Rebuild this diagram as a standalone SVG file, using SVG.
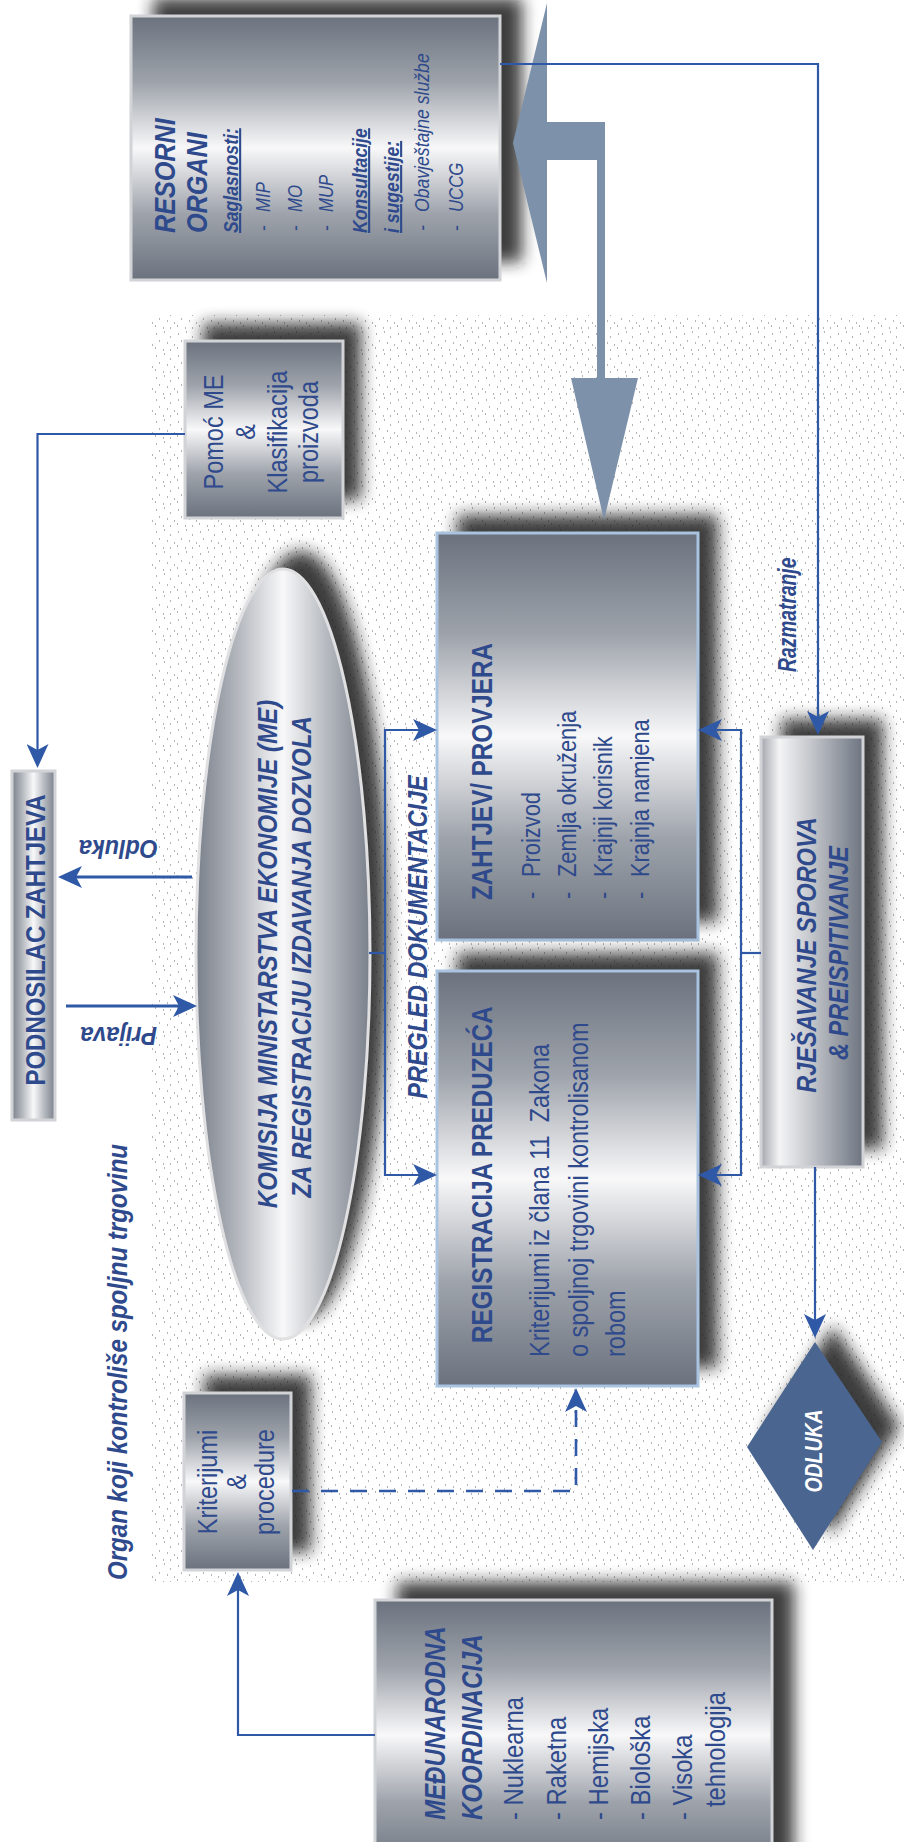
<svg xmlns="http://www.w3.org/2000/svg" width="904" height="1842" viewBox="0 0 904 1842">
<defs>
<style>
.t{font-family:"Liberation Sans",Arial,sans-serif;fill:#2f4a8c}
.b{font-weight:bold}
.i{font-style:italic}
.u{text-decoration:underline}
.w{fill:#ffffff}
.ln{fill:none;stroke:#2f58a6;stroke-width:2.2;marker-end:url(#ah)}
.ln0{fill:none;stroke:#2f58a6;stroke-width:2.2}
.lnb{fill:none;stroke:#2f58a6;stroke-width:2.8;marker-end:url(#ah)}
.dash{fill:none;stroke:#2f58a6;stroke-width:2.6;stroke-dasharray:17 12;marker-end:url(#ah)}
.sh{fill:#1c1c1c;opacity:.85;filter:url(#blur)}
.boxg{fill:url(#gv);stroke:#d2d3d6;stroke-width:3}
.boxb{fill:url(#gv);stroke:#a9c3e0;stroke-width:3}
</style>
<linearGradient id="gv" x1="0" y1="0" x2="0" y2="1">
<stop offset="0" stop-color="#6b727e"/>
<stop offset="0.25" stop-color="#9ea3ab"/>
<stop offset="0.5" stop-color="#f8f8f9"/>
<stop offset="0.75" stop-color="#9ea3ab"/>
<stop offset="1" stop-color="#6b727e"/>
</linearGradient>
<linearGradient id="gh" x1="0" y1="0" x2="1" y2="0">
<stop offset="0" stop-color="#7a808b"/>
<stop offset="0.25" stop-color="#b6bac0"/>
<stop offset="0.5" stop-color="#f8f8f9"/>
<stop offset="0.75" stop-color="#b6bac0"/>
<stop offset="1" stop-color="#7a808b"/>
</linearGradient>
<linearGradient id="gr" x1="0" y1="0" x2="1" y2="0">
<stop offset="0" stop-color="#a2a6ad"/>
<stop offset="0.18" stop-color="#f4f4f5"/>
<stop offset="0.5" stop-color="#c2c5ca"/>
<stop offset="1" stop-color="#6d7480"/>
</linearGradient>
<pattern id="dots" width="22" height="22" patternUnits="userSpaceOnUse">
<g fill="#b4b4b4">
<rect x="2" y="3" width="1" height="2"/><rect x="10" y="1" width="1" height="2"/>
<rect x="16" y="6" width="1" height="2"/><rect x="5" y="10" width="1" height="2"/>
<rect x="13" y="12" width="1" height="2"/><rect x="20" y="14" width="1" height="2"/>
<rect x="1" y="17" width="1" height="2"/><rect x="9" y="19" width="1" height="2"/>
<rect x="16" y="19" width="1" height="2"/>
</g>
</pattern>
<filter id="blur" x="-30%" y="-30%" width="160%" height="160%">
<feGaussianBlur stdDeviation="8"/>
</filter>
<marker id="ah" markerUnits="userSpaceOnUse" markerWidth="24" markerHeight="22" viewBox="0 0 24 22" refX="20" refY="11" orient="auto">
<path d="M0,0 L24,11 L0,22 L6,11 z" fill="#2f58a6"/>
</marker>
</defs>

<rect x="0" y="0" width="904" height="1842" fill="#ffffff"/>
<rect x="150" y="315" width="754" height="1267" fill="url(#dots)"/>

<text class="t b i" font-size="28" transform="translate(127,1580) rotate(-90) scale(0.86,1)">Organ koji kontroliše spoljnu trgovinu</text>

<g id="node-resorni">
<rect class="sh" x="153" y="-2" width="369" height="264"/>
<rect class="boxg" x="131" y="16" width="369" height="264"/>
<text class="t b i" font-size="30" transform="translate(175,233) rotate(-90) scale(0.84,1)">RESORNI</text>
<text class="t b i" font-size="30" transform="translate(207,233) rotate(-90) scale(0.84,1)">ORGANI</text>
<text class="t b i u" font-size="21" transform="translate(238,233) rotate(-90) scale(0.84,1)">Saglasnosti:</text>
<text class="t i" font-size="20" transform="translate(270,231) rotate(-90) scale(0.84,1)">-</text>
<text class="t i" font-size="20" transform="translate(270,212) rotate(-90) scale(0.84,1)">MIP</text>
<text class="t i" font-size="20" transform="translate(302,231) rotate(-90) scale(0.84,1)">-</text>
<text class="t i" font-size="20" transform="translate(302,212) rotate(-90) scale(0.84,1)">MO</text>
<text class="t i" font-size="20" transform="translate(333,231) rotate(-90) scale(0.84,1)">-</text>
<text class="t i" font-size="20" transform="translate(333,212) rotate(-90) scale(0.84,1)">MUP</text>
<text class="t b i u" font-size="21" transform="translate(367,233) rotate(-90) scale(0.84,1)">Konsultacije</text>
<text class="t b i u" font-size="21" transform="translate(399,233) rotate(-90) scale(0.84,1)">i sugestije:</text>
<text class="t i" font-size="21" transform="translate(429,231) rotate(-90) scale(0.84,1)">-</text>
<text class="t i" font-size="21" transform="translate(429,212) rotate(-90) scale(0.84,1)">Obavještajne službe</text>
<text class="t i" font-size="20" transform="translate(463,231) rotate(-90) scale(0.84,1)">-</text>
<text class="t i" font-size="20" transform="translate(463,212) rotate(-90) scale(0.84,1)">UCCG</text>
</g>

<g id="node-pomoc">
<rect class="sh" x="203" y="323" width="158" height="177"/>
<rect class="boxg" x="185" y="341" width="158" height="177"/>
<g text-anchor="middle">
<text class="t" font-size="28" transform="translate(223,432) rotate(-90) scale(0.84,1)">Pomoć ME</text>
<text class="t" font-size="28" transform="translate(255,432) rotate(-90) scale(0.84,1)">&amp;</text>
<text class="t" font-size="28" transform="translate(287,432) rotate(-90) scale(0.84,1)">Klasifikacija</text>
<text class="t" font-size="28" transform="translate(318,432) rotate(-90) scale(0.84,1)">proizvoda</text>
</g>
</g>

<g id="node-podnosilac">
<rect x="12" y="771" width="43" height="349" fill="url(#gh)" stroke="#d2d3d6" stroke-width="3"/>
<text class="t b" font-size="28" text-anchor="middle" transform="translate(45,940) rotate(-90) scale(0.856,1)">PODNOSILAC ZAHTJEVA</text>
</g>

<g id="node-komisija">
<ellipse class="sh" cx="301" cy="936" rx="87" ry="385"/>
<ellipse cx="283" cy="954" rx="87" ry="385" fill="url(#gh)" stroke="#e0e0e2" stroke-width="3"/>
<g text-anchor="middle">
<text class="t b i" font-size="28" transform="translate(277,954) rotate(-90) scale(0.86,1)">KOMISIJA MINISTARSTVA EKONOMIJE (ME)</text>
<text class="t b i" font-size="28" transform="translate(311,957) rotate(-90) scale(0.86,1)">ZA REGISTRACIJU IZDAVANJA DOZVOLA</text>
</g>
</g>

<g id="node-zahtjev">
<rect class="sh" x="457" y="515" width="261" height="407"/>
<rect class="boxb" x="437" y="533" width="261" height="407"/>
<text class="t b" font-size="29" transform="translate(492,900) rotate(-90) scale(0.835,1)">ZAHTJEV/ PROVJERA</text>
<text class="t" font-size="26" transform="translate(540,899) rotate(-90) scale(0.84,1)">-</text>
<text class="t" font-size="26" transform="translate(540,877) rotate(-90) scale(0.84,1)">Proizvod</text>
<text class="t" font-size="26" transform="translate(576,899) rotate(-90) scale(0.84,1)">-</text>
<text class="t" font-size="26" transform="translate(576,877) rotate(-90) scale(0.84,1)">Zemlja okruženja</text>
<text class="t" font-size="26" transform="translate(612,899) rotate(-90) scale(0.84,1)">-</text>
<text class="t" font-size="26" transform="translate(612,877) rotate(-90) scale(0.84,1)">Krajnji korisnik</text>
<text class="t" font-size="26" transform="translate(649,899) rotate(-90) scale(0.84,1)">-</text>
<text class="t" font-size="26" transform="translate(649,877) rotate(-90) scale(0.84,1)">Krajnja namjena</text>
</g>

<g id="node-registracija">
<rect class="sh" x="457" y="953" width="261" height="415"/>
<rect class="boxb" x="437" y="971" width="261" height="415"/>
<text class="t b" font-size="29" transform="translate(492,1343) rotate(-90) scale(0.835,1)">REGISTRACIJA PREDUZEĆA</text>
<text class="t" font-size="28" xml:space="preserve" transform="translate(549,1357) rotate(-90) scale(0.84,1)">Kriterijumi iz člana 11  Zakona</text>
<text class="t" font-size="28" transform="translate(588,1357) rotate(-90) scale(0.84,1)">o spoljnoj trgovini kontrolisanom</text>
<text class="t" font-size="28" transform="translate(625,1357) rotate(-90) scale(0.84,1)">robom</text>
</g>

<text class="t b i" font-size="28" text-anchor="middle" transform="translate(427,937) rotate(-90) scale(0.84,1)">PREGLED DOKUMENTACIJE</text>

<g id="node-rjesavanje">
<rect class="sh" x="781" y="719" width="102" height="430"/>
<rect x="761" y="737" width="102" height="430" fill="url(#gr)" stroke="#d2d3d6" stroke-width="3"/>
<g text-anchor="middle">
<text class="t b i" font-size="28" transform="translate(816,955) rotate(-90) scale(0.84,1)">RJEŠAVANJE SPOROVA</text>
<text class="t b i" font-size="28" transform="translate(848,953) rotate(-90) scale(0.84,1)">&amp; PREISPITIVANJE</text>
</g>
</g>

<text class="t b i" font-size="25" transform="translate(796,672) rotate(-90) scale(0.77,1)">Razmatranje</text>

<g id="node-kriterijumi">
<rect class="sh" x="204" y="1375" width="107" height="177"/>
<rect class="boxg" x="184" y="1393" width="107" height="177"/>
<g text-anchor="middle">
<text class="t" font-size="28" transform="translate(217,1482) rotate(-90) scale(0.84,1)">Kriterijumi</text>
<text class="t" font-size="28" transform="translate(246,1482) rotate(-90) scale(0.84,1)">&amp;</text>
<text class="t" font-size="28" transform="translate(274,1482) rotate(-90) scale(0.84,1)">procedure</text>
</g>
</g>

<g id="node-odluka">
<polygon class="sh" points="833,1326 900,1426 831,1534 765,1431"/>
<polygon points="815,1342 882,1442 813,1550 747,1447" fill="#4a6590"/>
<text class="t b i w" font-size="24" text-anchor="middle" transform="translate(822,1451) rotate(-90) scale(0.81,1)">ODLUKA</text>
</g>

<g id="node-medjunarodna">
<rect class="sh" x="397" y="1582" width="397" height="280"/>
<rect class="boxg" x="375" y="1600" width="397" height="270"/>
<text class="t b i" font-size="29" transform="translate(445,1820) rotate(-90) scale(0.83,1)">MEĐUNARODNA</text>
<text class="t b i" font-size="29" transform="translate(482,1820) rotate(-90) scale(0.83,1)">KOORDINACIJA</text>
<text class="t" font-size="28" transform="translate(523,1820) rotate(-90) scale(0.85,1)">- Nuklearna</text>
<text class="t" font-size="28" transform="translate(566,1820) rotate(-90) scale(0.85,1)">- Raketna</text>
<text class="t" font-size="28" transform="translate(608,1820) rotate(-90) scale(0.85,1)">- Hemijska</text>
<text class="t" font-size="28" transform="translate(650,1820) rotate(-90) scale(0.85,1)">- Biološka</text>
<text class="t" font-size="28" transform="translate(692,1820) rotate(-90) scale(0.85,1)">- Visoka</text>
<text class="t" font-size="28" transform="translate(725,1807) rotate(-90) scale(0.85,1)">tehnologija</text>
</g>

<g id="connectors">
<polygon points="513,143 547,3 547,122 605,122 605,378 638,378 604,520 571,378 597,378 597,160 547,160 547,283" fill="#7d92aa"/>
<path class="ln" d="M500,64 H818 V731"/>
<path class="ln" d="M185,434 H37.5 V764"/>
<path class="lnb" d="M192,877 H62"/>
<path class="lnb" d="M66,1006 H193"/>
<path class="ln0" d="M369,953 H385"/>
<path class="ln" d="M385,953 V730 H433"/>
<path class="ln" d="M385,953 V1175 H433"/>
<path class="ln0" d="M761,953 H741"/>
<path class="ln" d="M741,953 V730 H702"/>
<path class="ln" d="M741,953 V1175 H702"/>
<path class="ln" d="M815,1167 V1334"/>
<path class="dash" d="M292,1491 H576 V1392"/>
<path class="ln" d="M375,1735 H238 V1576"/>
<text class="t b i" font-size="26" transform="translate(158,840) rotate(180) scale(0.9,1)">Odluka</text>
<text class="t b i" font-size="26" transform="translate(157,1027) rotate(180) scale(0.9,1)">Prijava</text>
</g>
</svg>
